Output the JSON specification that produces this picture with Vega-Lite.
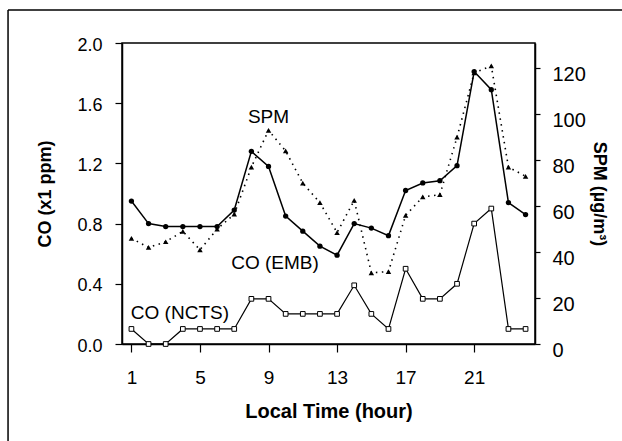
{
  "$schema": "https://vega.github.io/schema/vega-lite/v6.json",
  "width": 413,
  "height": 301,
  "autosize": {"type": "none"},
  "padding": {"left": 122, "top": 43, "right": 87, "bottom": 97},
  "background": "white",
  "config": {
    "font": "Liberation Sans",
    "view": {"stroke": "black", "strokeWidth": 1.5},
    "axis": {"grid": false, "domainColor": "black", "domainWidth": 1.5, "tickColor": "black", "tickWidth": 1.2, "labelColor": "black", "titleColor": "black", "labelFont": "Liberation Sans", "titleFont": "Liberation Sans"},
    "text": {"font": "Liberation Sans"}
  },
  "datasets": {
    "series": [
      {"hour": 1, "emb": 0.95, "ncts": 0.1, "spm": 46},
      {"hour": 2, "emb": 0.80, "ncts": 0.0, "spm": 42},
      {"hour": 3, "emb": 0.78, "ncts": 0.0, "spm": 44.5},
      {"hour": 4, "emb": 0.78, "ncts": 0.1, "spm": 49},
      {"hour": 5, "emb": 0.78, "ncts": 0.1, "spm": 41},
      {"hour": 6, "emb": 0.78, "ncts": 0.1, "spm": 50},
      {"hour": 7, "emb": 0.89, "ncts": 0.1, "spm": 56.5},
      {"hour": 8, "emb": 1.28, "ncts": 0.3, "spm": 77},
      {"hour": 9, "emb": 1.18, "ncts": 0.3, "spm": 93},
      {"hour": 10, "emb": 0.85, "ncts": 0.2, "spm": 84},
      {"hour": 11, "emb": 0.75, "ncts": 0.2, "spm": 70},
      {"hour": 12, "emb": 0.65, "ncts": 0.2, "spm": 61.5},
      {"hour": 13, "emb": 0.59, "ncts": 0.2, "spm": 48.5},
      {"hour": 14, "emb": 0.80, "ncts": 0.39, "spm": 62.5},
      {"hour": 15, "emb": 0.77, "ncts": 0.2, "spm": 31},
      {"hour": 16, "emb": 0.72, "ncts": 0.1, "spm": 31.5},
      {"hour": 17, "emb": 1.02, "ncts": 0.5, "spm": 56},
      {"hour": 18, "emb": 1.07, "ncts": 0.3, "spm": 64},
      {"hour": 19, "emb": 1.085, "ncts": 0.3, "spm": 65},
      {"hour": 20, "emb": 1.185, "ncts": 0.4, "spm": 90},
      {"hour": 21, "emb": 1.81, "ncts": 0.8, "spm": 118},
      {"hour": 22, "emb": 1.69, "ncts": 0.9, "spm": 121},
      {"hour": 23, "emb": 0.94, "ncts": 0.1, "spm": 77},
      {"hour": 24, "emb": 0.86, "ncts": 0.1, "spm": 73}
    ],
    "labels": [
      {"label": "SPM", "hour": 9.0, "co": 1.508},
      {"label": "CO (EMB)", "hour": 9.38, "co": 0.538},
      {"label": "CO (NCTS)", "hour": 3.83, "co": 0.206}
    ]
  },
  "layer": [
    {
      "layer": [
        {
          "data": {"values": [{}]},
          "mark": {"type": "rule", "color": "black", "strokeWidth": 1.5, "clip": false},
          "encoding": {
            "x": {"datum": -6.2, "type": "quantitative", "scale": {"domain": [0.45, 24.55], "nice": false}},
            "y": {"datum": 2.22, "type": "quantitative"},
            "y2": {"datum": -0.8}
          }
        },
        {
          "data": {"values": [{}]},
          "mark": {"type": "rule", "color": "black", "strokeWidth": 1.5, "clip": false},
          "encoding": {
            "x": {"datum": -6.2, "type": "quantitative"},
            "x2": {"datum": 32},
            "y": {"datum": 2.22, "type": "quantitative"}
          }
        },
        {
          "data": {"name": "series"},
          "mark": {"type": "line", "color": "black", "strokeWidth": 1.2},
          "encoding": {
            "x": {"field": "hour", "type": "quantitative", "scale": {"domain": [0.45, 24.55], "nice": false},
              "axis": {"title": "Local Time (hour)", "values": [1, 5, 9, 13, 17, 21], "labelFontSize": 19, "tickSize": 8, "labelPadding": 16, "titleFontSize": 20, "titleFontWeight": "bold", "titlePadding": 14}},
            "y": {"field": "ncts", "type": "quantitative", "scale": {"domain": [0, 2], "nice": false},
              "axis": {"orient": "left", "title": "CO (x1 ppm)", "values": [0, 0.4, 0.8, 1.2, 1.6, 2.0], "format": ".1f", "labelFontSize": 18, "tickSize": 7, "labelPadding": 13, "labelOffset": 2, "titleFontSize": 18, "titleFontWeight": "bold", "titlePadding": 22}}
          }
        },
        {
          "data": {"name": "series"},
          "mark": {"type": "point", "shape": "square", "filled": true, "fill": "white", "stroke": "black", "strokeWidth": 1, "size": 22, "opacity": 1},
          "encoding": {
            "x": {"field": "hour", "type": "quantitative"},
            "y": {"field": "ncts", "type": "quantitative"}
          }
        },
        {
          "data": {"name": "series"},
          "mark": {"type": "line", "color": "black", "strokeWidth": 1.5},
          "encoding": {
            "x": {"field": "hour", "type": "quantitative"},
            "y": {"field": "emb", "type": "quantitative"}
          }
        },
        {
          "data": {"name": "series"},
          "mark": {"type": "circle", "color": "black", "size": 28, "opacity": 1},
          "encoding": {
            "x": {"field": "hour", "type": "quantitative"},
            "y": {"field": "emb", "type": "quantitative"}
          }
        },
        {
          "data": {"name": "labels"},
          "mark": {"type": "text", "fontSize": 19, "align": "center", "baseline": "middle", "color": "black"},
          "encoding": {
            "x": {"field": "hour", "type": "quantitative"},
            "y": {"field": "co", "type": "quantitative"},
            "text": {"field": "label"}
          }
        }
      ]
    },
    {
      "data": {"name": "series"},
      "layer": [
        {
          "mark": {"type": "line", "color": "black", "strokeWidth": 1.6, "strokeDash": [1.5, 4.5]},
          "encoding": {
            "x": {"field": "hour", "type": "quantitative"},
            "y": {"field": "spm", "type": "quantitative", "scale": {"domain": [0, 131], "nice": false},
              "axis": {"orient": "right", "title": "SPM (µg/m³)", "values": [0, 20, 40, 60, 80, 100, 120], "labelFontSize": 20, "tickSize": 5, "labelPadding": 12, "labelOffset": 6, "titleFontSize": 18, "titleFontWeight": "bold", "titlePadding": 4}}
          }
        },
        {
          "mark": {"type": "point", "shape": "triangle-up", "filled": true, "color": "black", "size": 30, "opacity": 1},
          "encoding": {
            "x": {"field": "hour", "type": "quantitative"},
            "y": {"field": "spm", "type": "quantitative"}
          }
        }
      ]
    }
  ],
  "resolve": {"scale": {"y": "independent"}, "axis": {"y": "independent"}}
}
